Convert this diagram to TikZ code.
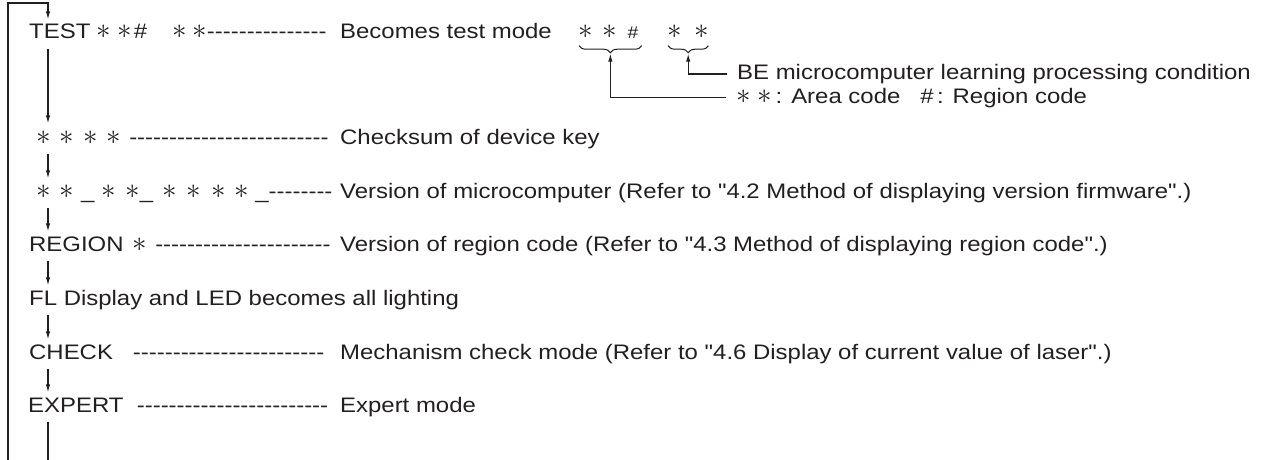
\documentclass[tikz,border=0pt]{standalone}
\usepackage{graphicx}
\usepackage{fontspec}
\setmainfont{Liberation Sans}[FakeStretch=1.14, Ligatures=TeXOff]
\usetikzlibrary{decorations.pathreplacing, arrows.meta}
\definecolor{ink}{HTML}{231F20}
\newcommand{\st}{\scalebox{1.4}{$\ast$}}
\begin{document}
\begin{tikzpicture}[x=1pt,y=-1pt,
  lbl/.style={anchor=base west, inner sep=0pt, text height=15pt, text depth=4pt,
              font=\fontsize{21}{24}\selectfont, text=ink},
  arr/.style={-{Latex[length=8pt,width=4.5pt]}, line width=1.1pt, draw=ink},
  ln/.style={line width=1.1pt, draw=ink},
  brc/.style={line width=1pt, draw=ink, decorate, decoration={brace, mirror, amplitude=7pt}}]
\useasboundingbox (0,0) rectangle (1264,460);
\coordinate (axis) at (48,0);
\coordinate (loopb) at (8,460);
\coordinate (loopt) at (8,3);

% left column
\node[lbl] (test) at (29,38.5) {TEST\hspace{6pt}\st\hspace{6.5pt}\st\hspace{2pt}\#\hspace{25.2pt}\st\hspace{5.5pt}\st---------------};
\node[lbl] (cks) at (36,144.5) {\st\hspace{9pt}\st\hspace{9pt}\st\hspace{9pt}\st\hspace{8pt}-------------------------};
\node[lbl] (ver) at (36,198.5) {\st\hspace{8.5pt}\st\hspace{7.5pt}\_\hspace{6.7pt}\st\hspace{9.5pt}\st\_\hspace{9.2pt}\st\hspace{9.5pt}\st\hspace{10.5pt}\st\hspace{8.5pt}\st\hspace{6.5pt}\_--------};
\node[lbl] (reg) at (29,251.5) {REGION\hspace{8.6pt}\st\hspace{8.5pt}----------------------};
\node[lbl] (fl) at (29,305.5) {FL Display and LED becomes all lighting};
\node[lbl] (chk) at (29,359.5) {CHECK\ \ \ ------------------------};
\node[lbl] (exp) at (28,412.5) {EXPERT\ \ ------------------------};

% descriptions
\node[lbl] (testd) at (340,38.5) {Becomes test mode};
\node[lbl] (cksd) at (340,144.5) {Checksum of device key};
\node[lbl] (verd) at (340,198.5) {Version of microcomputer (Refer to "4.2 Method of displaying version firmware".)};
\node[lbl] (regd) at (340,251.5) {Version of region code (Refer to "4.3 Method of displaying region code".)};
\node[lbl] (chkd) at (340,359.5) {Mechanism check mode (Refer to "4.6 Display of current value of laser".)};
\node[lbl] (expd) at (340,412.5) {Expert mode};

% code groups with braces
\node[lbl] (g1) at (578,38.5) {\st\hspace{9.5pt}\st\hspace{11pt}{\fontsize{17}{17}\selectfont\#}};
\node[lbl] (g2) at (667,38.5) {\st\hspace{12.5pt}\st};
\draw[brc] ([xshift=1pt,yshift=-3pt]g1.south west) -- ([xshift=3pt,yshift=-3pt]g1.south east);
\draw[brc] ([xshift=1pt,yshift=-3pt]g2.south west) -- ([xshift=-0.5pt,yshift=-3pt]g2.south east);
\coordinate (b1tip) at ([xshift=2pt,yshift=-11pt]g1.south);
\coordinate (b2tip) at ([xshift=0.25pt,yshift=-11pt]g2.south);

\node[lbl] (be) at (737,79.5) {BE microcomputer learning processing condition};
\node[lbl] (area) at (736,103) {\st\hspace{6.5pt}\st\hspace{4pt}: Area code\ \ \ \#\,: Region code};
\draw[arr] ([xshift=-10pt]be.west) -| (b2tip);
\draw[arr] ([xshift=-10pt]area.west) -| (b1tip);

% flow
\draw[arr] (loopb) -- (loopt) -| ([yshift=4pt]test.north -| axis);
\draw[arr] ([yshift=-6pt]test.south -| axis) -- ([yshift=6pt]cks.north -| axis);
\draw[arr] ([yshift=-5pt]cks.south -| axis) -- ([yshift=5pt]ver.north -| axis);
\draw[arr] ([yshift=-5pt]ver.south -| axis) -- ([yshift=5pt]reg.north -| axis);
\draw[arr] ([yshift=-5pt]reg.south -| axis) -- ([yshift=5pt]fl.north -| axis);
\draw[arr] ([yshift=-5pt]fl.south -| axis) -- ([yshift=5pt]chk.north -| axis);
\draw[arr] ([yshift=-5pt]chk.south -| axis) -- ([yshift=5pt]exp.north -| axis);
\draw[ln] ([yshift=-5pt]exp.south -| axis) -- (axis |- loopb);
\end{tikzpicture}
\end{document}
